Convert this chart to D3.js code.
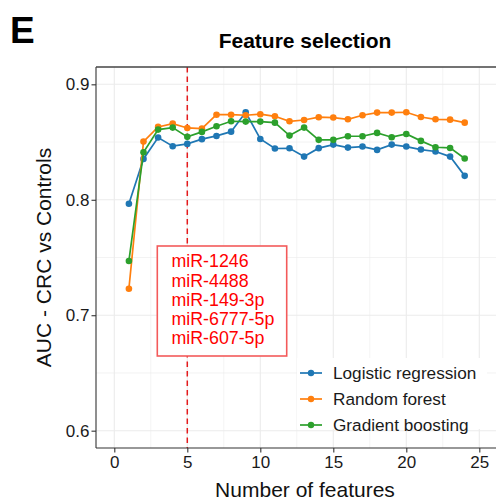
<!DOCTYPE html>
<html><head><meta charset="utf-8">
<script src="https://cdn.jsdelivr.net/npm/d3@7"></script>
<style>body{margin:0;background:#fff}svg{display:block}text{font-family:"Liberation Sans",Arial,Helvetica,sans-serif}</style>
</head><body>
<svg id="chart" width="496" height="501"></svg>
<script>
const features = [1,2,3,4,5,6,7,8,9,10,11,12,13,14,15,16,17,18,19,20,21,22,23,24];
const logistic = [0.7965,0.8354,0.8539,0.8464,0.8484,0.8525,0.8553,0.8590,0.8758,0.8527,0.8444,0.8446,0.8374,0.8447,0.8478,0.8452,0.8461,0.8432,0.8478,0.8461,0.8435,0.8418,0.8374,0.8207];
const randomForest = [0.7229,0.8504,0.8631,0.8660,0.8622,0.8616,0.8737,0.8737,0.8732,0.8741,0.8723,0.8680,0.8691,0.8715,0.8712,0.8697,0.8732,0.8755,0.8755,0.8758,0.8717,0.8697,0.8694,0.8668];
const gradientBoosting = [0.7470,0.8412,0.8608,0.8625,0.8545,0.8588,0.8637,0.8680,0.8677,0.8677,0.8668,0.8556,0.8625,0.8519,0.8519,0.8550,0.8550,0.8579,0.8542,0.8570,0.8510,0.8455,0.8449,0.8357];
const seriesNames = ["Logistic regression","Random forest","Gradient boosting"];
const seriesColors = ["#1f77b4","#ff7f0e","#2ca02c"];
const xTicks = [0,5,10,15,20,25];
const yTicks = [0.6,0.7,0.8,0.9];
const xMinor = [2.5,7.5,12.5,17.5,22.5,27.5];
const yMinor = [0.65,0.75,0.85];
const selectedK = 5;
const selectedFeatures = ["miR-1246","miR-4488","miR-149-3p","miR-6777-5p","miR-607-5p"];

const svg = d3.select("#chart");
const P = {l:96, r:514, t:67, b:448};
const x = d3.scaleLinear().domain([0,25]).range([114.3,479.3]);
const y = d3.scaleLinear().domain([0.585,0.915]).range([P.b,P.t]);

// panel background
svg.append("rect").attr("x",P.l).attr("y",P.t).attr("width",P.r-P.l).attr("height",P.b-P.t).attr("fill","#fff");
const grid = svg.append("g");
grid.selectAll(".vmin").data(xMinor).join("line").attr("x1",d=>x(d)).attr("x2",d=>x(d)).attr("y1",P.t).attr("y2",P.b).attr("stroke","#ebebeb").attr("stroke-width",0.6);
grid.selectAll(".hmin").data(yMinor).join("line").attr("y1",d=>y(d)).attr("y2",d=>y(d)).attr("x1",P.l).attr("x2",P.r).attr("stroke","#ebebeb").attr("stroke-width",0.6);
grid.selectAll(".vmaj").data(xTicks).join("line").attr("x1",d=>x(d)).attr("x2",d=>x(d)).attr("y1",P.t).attr("y2",P.b).attr("stroke","#ebebeb").attr("stroke-width",1.1);
grid.selectAll(".hmaj").data(yTicks).join("line").attr("y1",d=>y(d)).attr("y2",d=>y(d)).attr("x1",P.l).attr("x2",P.r).attr("stroke","#ebebeb").attr("stroke-width",1.1);

// dashed selection line
svg.append("line").attr("x1",x(selectedK)).attr("x2",x(selectedK)).attr("y1",P.t).attr("y2",P.b)
  .attr("stroke","#e41a1c").attr("stroke-width",1.5).attr("stroke-dasharray","5.5,4");

// annotation box
const box = svg.append("g");
box.append("rect").attr("x",157.3).attr("y",246).attr("width",129.4).attr("height",110)
  .attr("fill","#fff").attr("stroke","#f35a5a").attr("stroke-width",1.6);
box.selectAll("text").data(selectedFeatures).join("text")
  .attr("x",171.5).attr("y",(d,i)=>267.3+i*19.2).attr("fill","#ff0000").attr("font-size",17.8).text(d=>d);

// series
const all = [logistic, randomForest, gradientBoosting];
const line = d3.line().x((d,i)=>x(features[i])).y(d=>y(d));
all.forEach((vals,k)=>{
  const g = svg.append("g");
  g.append("path").datum(vals).attr("d",line).attr("fill","none").attr("stroke",seriesColors[k]).attr("stroke-width",1.7);
  g.selectAll("circle").data(vals).join("circle").attr("cx",(d,i)=>x(features[i])).attr("cy",d=>y(d)).attr("r",3.3).attr("fill",seriesColors[k]);
});

// legend
const lg = svg.append("g");
lg.append("rect").attr("x",297).attr("y",358).attr("width",190).attr("height",71).attr("fill","#fff");
seriesNames.forEach((n,i)=>{
  const cy = 373 + i*26;
  lg.append("line").attr("x1",300).attr("x2",322).attr("y1",cy).attr("y2",cy).attr("stroke",seriesColors[i]).attr("stroke-width",1.7);
  lg.append("circle").attr("cx",311).attr("cy",cy).attr("r",3.2).attr("fill",seriesColors[i]);
  lg.append("text").attr("x",333).attr("y",cy+6).attr("font-size",17.2).attr("fill","#1a1a1a").text(n);
});

// axes lines
svg.append("line").attr("x1",P.l).attr("x2",P.l).attr("y1",P.t).attr("y2",P.b).attr("stroke","#333").attr("stroke-width",1.1);
svg.append("line").attr("x1",P.l).attr("x2",P.r).attr("y1",P.b).attr("y2",P.b).attr("stroke","#333").attr("stroke-width",1.1);
svg.append("line").attr("x1",P.l).attr("x2",P.r).attr("y1",P.t).attr("y2",P.t).attr("stroke","#444").attr("stroke-width",1.4);

const ya = svg.append("g").attr("transform",`translate(${P.l},0)`)
  .call(d3.axisLeft(y).tickValues(yTicks).tickFormat(d3.format(".1f")).tickSize(4.5).tickPadding(2));
const xa = svg.append("g").attr("transform",`translate(0,${P.b})`)
  .call(d3.axisBottom(x).tickValues(xTicks).tickFormat(d3.format("d")).tickSize(4.5).tickPadding(3));
[ya,xa].forEach(a=>{
  a.select(".domain").remove();
  a.selectAll(".tick line").attr("stroke","#333").attr("stroke-width",1.1);
  a.selectAll(".tick text").attr("font-size",17).attr("fill","#1a1a1a").attr("font-family","'Liberation Sans',Arial,sans-serif");
});

// titles
const cx = (P.l+P.r)/2;
svg.append("text").attr("x",cx).attr("y",48).attr("text-anchor","middle").attr("font-size",21).attr("font-weight","bold").text("Feature selection");
svg.append("text").attr("x",cx).attr("y",497).attr("text-anchor","middle").attr("font-size",21).attr("fill","#111").text("Number of features");
svg.append("text").attr("transform",`translate(51,${(P.t+P.b)/2}) rotate(-90)`).attr("text-anchor","middle").attr("font-size",21).attr("fill","#111").text("AUC - CRC vs Controls");
svg.append("text").attr("x",10).attr("y",43).attr("font-size",37).attr("font-weight","bold").text("E");
</script>
</body></html>
